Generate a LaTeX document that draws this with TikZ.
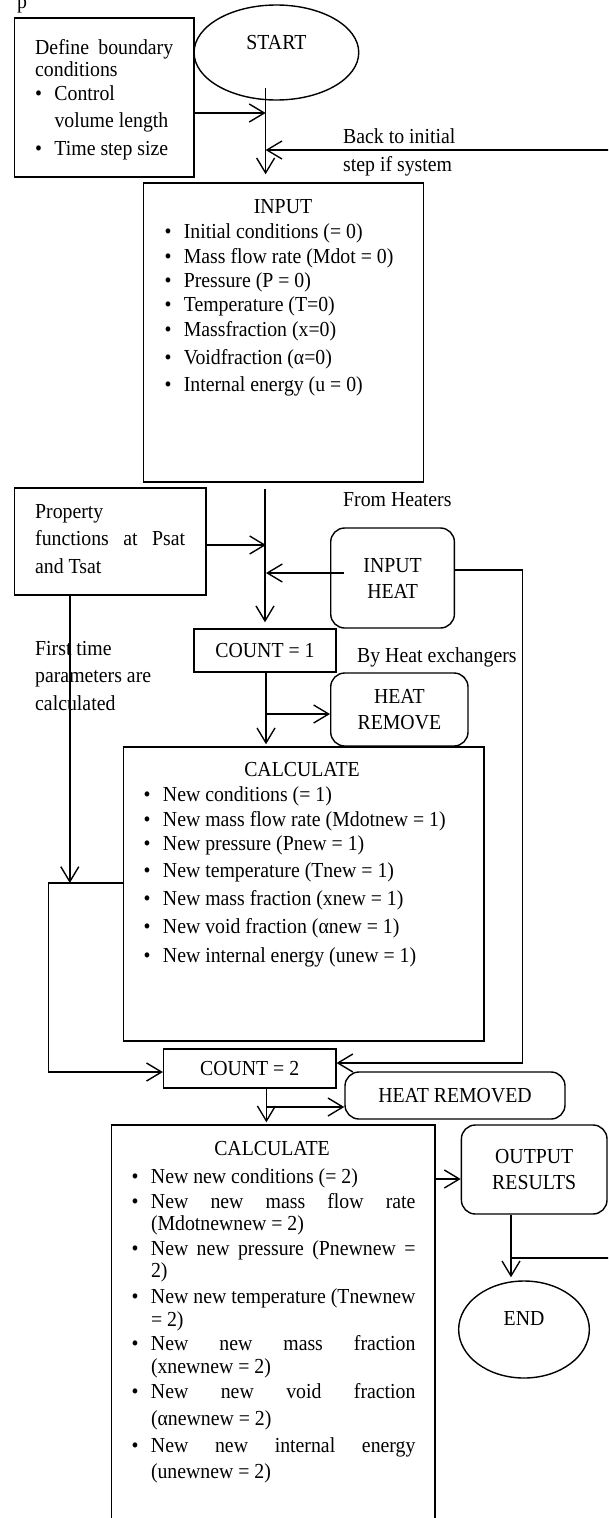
\documentclass[tikz,border=0pt]{standalone}
\usepackage{fontspec}
\setmainfont[FakeStretch=0.925]{Liberation Serif}
\usetikzlibrary{arrows.meta,shapes.geometric,calc}
\newcommand{\diafont}{\fontsize{21.4pt}{26pt}\selectfont}
\newcommand{\Tx}[1]{\vtop{\baselineskip=0pt\lineskip=0pt\lineskiplimit=-1000pt #1}}
\newcommand{\Fl}[1]{\hbox{#1}}
\newcommand{\Ln}[2]{\vskip#1pt\hbox{#2}}
\newcommand{\Bu}{\makebox[19.3pt][l]{\textbullet}}
\newcommand{\Ind}{\hspace*{19.3pt}}
\tikzset{
  bx/.style={draw, rectangle, line width=1.4pt},
  rbx/.style={draw, rectangle, rounded corners=14pt, line width=1.4pt},
  ell/.style={draw, ellipse, line width=1.4pt},
  arr/.style={line width=1.4pt, -{Straight Barb[length=15pt,width=18pt]}},
  conn/.style={line width=1.4pt}
}
\begin{document}
\begin{tikzpicture}[x=1pt,y=-1pt, every node/.style={font=\diafont, inner sep=0pt}]
\useasboundingbox (0,0) rectangle (608,1518);
\clip (0,0) rectangle (608,1518);

% fragment of text above
\node[anchor=base west] (pfrag) at (17,8) {p};

% top part
\node[bx, minimum width=179.7pt, minimum height=159pt] (def) at (104.15,97.5) {};
\node[anchor=base west] (deftx) at (35,54) {\Tx{\Fl{\makebox[138pt][s]{Define boundary}}\Ln{22}{conditions}\Ln{24}{\Bu Control}\Ln{27}{\Ind volume length}\Ln{28}{\Bu Time step size}}};
\node[ell, minimum width=164.7pt, minimum height=95pt, text height=14pt, text depth=21pt] (start) at (276.4,52.5) {START};
\node[anchor=base west] (backtx) at (343,143) {\Tx{\Fl{Back to initial}\Ln{28}{step if system}}};

\node[bx, minimum width=279.9pt, minimum height=299pt] (input) at (283.45,332.5) {};
\node[anchor=base] (inhd) at (283,213) {INPUT};
\node[anchor=base west] (inls) at (164.3,238) {\Tx{\Fl{\Bu Initial conditions (= 0)}\Ln{25}{\Bu Mass flow rate (Mdot = 0)}\Ln{24}{\Bu Pressure (P = 0)}\Ln{24}{\Bu Temperature (T=0)}\Ln{25}{\Bu Massfraction (x=0)}\Ln{28}{\Bu Voidfraction (α=0)}\Ln{27}{\Bu Internal energy (u = 0)}}};

\coordinate (s0) at (265.6,88);
\coordinate (ja) at (265.6,113);
\coordinate (jb) at (265.6,150);
\coordinate (rt) at (612,0);
\draw[arr, shorten >=8pt] (s0) -- (input.north -| s0);
\draw[arr] (def.east |- ja) -- (ja);

% middle part
\node[bx, minimum width=191.7pt, minimum height=107pt] (prop) at (110.15,541.5) {};
\node[anchor=base west] (proptx) at (35,518) {\Tx{\Fl{Property}\Ln{27}{\makebox[150pt][s]{functions at Psat}}\Ln{28}{and Tsat}}};
\node[anchor=base west] (fromh) at (343,506) {From Heaters};
\node[rbx, minimum width=123.7pt, minimum height=100pt, align=center] (ih) at (392.55,578) {INPUT\\HEAT};
\node[bx, minimum width=142pt, minimum height=43pt] (c1) at (265,650.5) {COUNT = 1};
\node[anchor=base west] (ftx) at (35,655) {\Tx{\Fl{First time}\Ln{27}{parameters are}\Ln{28}{calculated}}};
\node[anchor=base west] (byhx) at (357,662) {By Heat exchangers};
\node[rbx, minimum width=137.3pt, minimum height=73pt, align=center] (hr) at (399.35,709.5) {HEAT\\REMOVE};

\node[bx, minimum width=360.7pt, minimum height=294pt] (calc1) at (303.65,894) {};
\node[anchor=base] (c1hd) at (302,776) {CALCULATE};
\node[anchor=base west] (c1ls) at (143.5,801) {\Tx{\Fl{\Bu New conditions (= 1)}\Ln{25}{\Bu New mass flow rate (Mdotnew = 1)}\Ln{24}{\Bu New pressure (Pnew = 1)}\Ln{27}{\Bu New temperature (Tnew = 1)}\Ln{28}{\Bu New mass fraction (xnew = 1)}\Ln{28}{\Bu New void fraction (αnew = 1)}\Ln{29}{\Bu New internal energy (unew = 1)}}};

\node[bx, minimum width=172.2pt, minimum height=39pt] (c2) at (249.7,1068.5) {COUNT = 2};
\node[rbx, minimum width=220pt, minimum height=47pt] (hrd) at (455,1095.5) {HEAT REMOVED};

% bottom part
\node[bx, minimum width=323.7pt, minimum height=415pt] (calc2) at (273.15,1332.5) {};
\node[anchor=base] (c2hd) at (272,1155) {CALCULATE};
\node[anchor=base west] (c2ls) at (131.5,1183) {\Tx{%
\Fl{\Bu New new conditions (= 2)}%
\Ln{25}{\Bu\makebox[264.5pt][s]{New new mass flow rate}}%
\Ln{22}{\Ind (Mdotnewnew = 2)}%
\Ln{25}{\Bu\makebox[264.5pt][s]{New new pressure (Pnewnew =}}%
\Ln{22}{\Ind 2)}%
\Ln{26}{\Bu\makebox[264.5pt][s]{New new temperature (Tnewnew}}%
\Ln{23}{\Ind = 2)}%
\Ln{24}{\Bu\makebox[264.5pt][s]{New new mass fraction}}%
\Ln{23}{\Ind (xnewnew = 2)}%
\Ln{25}{\Bu\makebox[264.5pt][s]{New new void fraction}}%
\Ln{27}{\Ind (αnewnew = 2)}%
\Ln{27}{\Bu\makebox[264.5pt][s]{New new internal energy}}%
\Ln{26}{\Ind (unewnew = 2)}}};

\node[rbx, minimum width=145.6pt, minimum height=89pt, align=center] (out) at (534.2,1169.5) {OUTPUT\\RESULTS};
\node[ell, minimum width=130.7pt, minimum height=97pt, text height=14pt, text depth=23pt] (end) at (524,1329.5) {END};

% junction coordinates
\coordinate (jc) at (266,545);
\coordinate (jd) at (266,573);
\coordinate (je) at (522.7,570);
\coordinate (jf) at (522.7,1063);
\coordinate (jg) at (266,714);
\coordinate (jh) at (69.8,883);
\coordinate (ji) at (48.5,883);
\coordinate (jj) at (48.5,1072);
\coordinate (jk) at (266.4,1107);
\coordinate (jl) at (0,1179);
\coordinate (jm) at (511,1258);

% connectors
\draw[arr, shorten <=6pt, shorten >=6pt] (input.south -| c1) -- (c1.north);
\draw[arr] (prop.east |- jc) -- (jc);
\draw[arr] ($(ih.west |- jd)+(14.3,0)$) -- (jd);
\draw[arr] (ih.east |- je) -- (je) -- (jf) -- (c2.east |- jf);
\draw[arr, shorten >=2pt] (c1.south -| jg) -- (calc1.north -| jg);
\draw[arr] (jg) -- (hr.west |- jg);
\draw[arr] (prop.south -| jh) -- (jh);
\draw[arr] (calc1.west |- ji) -- (ji) -- (jj) -- (c2.west |- jj);
\draw[arr, shorten >=2pt] (c2.south -| jk) -- (calc2.north -| jk);
\draw[arr] (jk) -- (hrd.west |- jk);
\draw[arr] (calc2.east |- jl) -- (out.west |- jl);
\draw[arr, shorten >=3pt] (out.south -| jm) -- (end.north -| jm);
\draw[arr] (jm) -- (rt |- jm) -- (rt |- jb) -- (jb);
\end{tikzpicture}
\end{document}
